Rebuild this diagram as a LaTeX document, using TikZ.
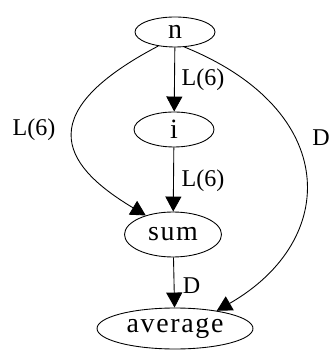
\documentclass[tikz,border=0pt]{standalone}
\usepackage{fontspec}
\setmainfont{Liberation Serif}
\usepackage{tikz}
\usetikzlibrary{shapes.geometric,arrows.meta}

\begin{document}
\begin{tikzpicture}[
        x=0.02cm, y=-0.02cm,
        every node/.append style={inner sep=0pt}
    ]
    \tikzstyle{vtx}=[draw,ellipse,line width=0.5pt,font=\fontsize{15.9}{18}\selectfont\addfontfeature{LetterSpace=6}];
    \tikzstyle{lbl}=[font=\fontsize{13.7}{16}\selectfont];
    \tikzstyle{edge}=[line width=0.5pt,-{Triangle[length=0.3cm,width=0.32cm]}];
    \useasboundingbox (0,0) rectangle (331,350);
    % nodes
    \node[vtx,minimum width=1.6cm,minimum height=0.6cm] (n) at (175,32) {n};
    \node[vtx,minimum width=1.6cm,minimum height=0.7cm] (i) at (174,129.5) {i};
    \node[vtx,minimum width=1.94cm,minimum height=0.9cm] (sum) at (173,234.5) {sum};
    \node[vtx,minimum width=3.12cm,minimum height=0.82cm] (average) at (175,328.5) {average};
    % straight edges
    \draw[edge] (n) -- (i);
    \draw[edge] (i) -- (sum);
    \draw[edge] (sum) -- (average);
    % curved edges
    \draw[edge] (n.-140) .. controls (23,117) and (70,170) .. (sum.145);
    \draw[edge] (n.-58) .. controls (340,110) and (340,240) .. (average.23);
    % labels
    \node[lbl] (lni) at (203,80) {L(6)};
    \node[lbl] (lis) at (203,181) {L(6)};
    \node[lbl] (lsa) at (191.5,286) {D};
    \node[lbl] (lns) at (34,130) {L(6)};
    \node[lbl] (lna) at (321,138) {D};
\end{tikzpicture}
\end{document}
